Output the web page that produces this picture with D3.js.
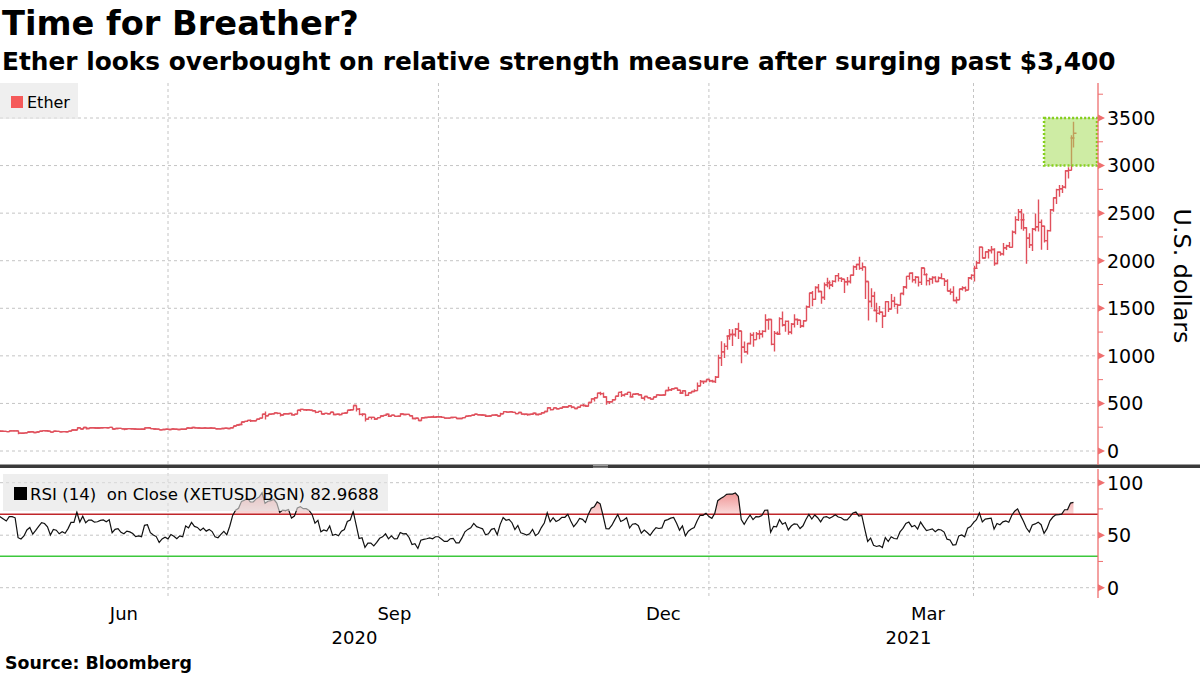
<!DOCTYPE html>
<html><head><meta charset="utf-8">
<script src="https://cdn.jsdelivr.net/npm/d3@7"></script>
<style>body{margin:0;background:#fff}svg{display:block}text{font-family:"DejaVu Sans",sans-serif;fill:#000}</style>
</head><body><svg id="c" width="1200" height="675"></svg>
<script>
// ---- DATA (daily XETUSD bars) ----
const startDate = "2020-04-19";
const closes = [
 180,171,172,182,185,189,195,197,196,197,215,206,
 213,215,210,208,206,204,212,212,211,188,186,190,199,203,194,200,207,214,213,209,198,207,206,201,204,202,209,220,220,244,231,
 247,237,244,244,241,242,245,246,244,248,231,237,238,233,231,235,234,232,228,229,228,243,244,235,232,230,222,226,228,226,
 231,229,226,229,228,241,239,247,243,242,239,242,239,241,239,234,233,236,239,236,245,262,274,279,305,311,322,318,318,334,346,
 387,371,386,390,401,395,379,391,390,395,380,388,428,437,433,433,430,423,406,416,389,395,392,408,383,386,382,395,400,428,434,
 478,440,385,388,335,353,353,337,351,368,374,387,365,377,364,365,389,384,385,371,341,344,321,349,352,354,357,354,360,360,
 353,346,346,352,353,341,341,351,365,371,375,387,381,379,377,366,368,377,379,368,392,414,409,412,406,393,404,388,386,383,386,
 396,383,388,402,415,455,435,453,444,450,462,462,475,461,447,460,480,478,471,509,548,560,608,603,568,518,517,538,575,616,
 587,598,616,569,596,601,591,554,573,560,545,568,590,586,589,636,643,654,659,638,609,634,585,612,626,635,683,731,731,751,737,
 730,775,979,1042,1100,1208,1225,1224,1281,1262,1090,1043,1130,1218,1171,1233,1230,1257,1377,1382,1121,1236,1230,1391,1325,1362,1248,1332,1382,1376,1314,
 1369,1515,1660,1594,1718,1677,1614,1746,1768,1744,1783,1843,1814,1805,1779,1781,1848,1937,1960,1919,1935,1781,1571,1626,1476,1446,1459,1417,
 1570,1492,1575,1541,1533,1655,1724,1835,1868,1799,1826,1772,1924,1854,1791,1806,1823,1782,1819,1812,1784,1681,1669,1582,1588,1702,1716,1691,1819,1846,1919,
 1977,2143,2029,2094,2107,2118,1971,2089,2072,2136,2157,2140,2300,2432,2515,2430,2346,2237,2166,2331,2357,2403,2363,2211,2316,2534,2662,2747,2757,2773,
 2945,2950,3290,3340
];
const highs = [
 187,186,174,183,190,190,196,199,199,198,220,227,
 216,217,217,210,209,209,215,216,215,212,193,193,201,206,204,201,210,215,215,214,210,209,210,211,205,206,210,222,224,246,244,
 251,252,245,246,245,244,245,247,246,250,250,239,239,238,233,240,238,235,232,230,230,245,246,248,236,233,231,228,229,229,
 232,232,230,230,229,242,242,248,248,243,242,243,243,242,243,239,235,238,240,240,248,264,277,283,307,315,327,330,326,335,346,
 391,414,390,395,406,403,398,392,395,400,397,390,431,444,441,436,440,434,424,418,417,397,395,411,409,390,394,395,405,429,441,
 479,479,451,396,389,355,357,357,353,373,375,390,389,381,378,371,397,393,392,385,372,346,344,351,356,357,359,372,361,362,
 368,354,349,354,354,354,342,352,368,375,377,390,389,382,382,377,369,378,381,380,403,416,417,416,415,407,408,406,394,387,393,
 400,397,392,406,419,456,458,454,457,452,470,467,478,475,461,464,487,494,482,511,554,563,612,622,614,575,526,544,575,616,
 630,600,619,617,597,603,605,593,576,574,563,569,593,592,592,637,676,657,666,664,640,636,637,613,628,648,719,745,733,754,754,
 749,787,1011,1154,1132,1209,1282,1280,1294,1347,1260,1150,1136,1244,1248,1251,1268,1268,1438,1392,1384,1260,1257,1407,1467,1371,1371,1346,1437,1392,1377,
 1375,1529,1663,1681,1732,1755,1682,1771,1822,1792,1795,1850,1870,1827,1806,1829,1853,1950,1967,2042,1980,1936,1781,1711,1673,1559,1525,1467,
 1574,1575,1650,1622,1545,1658,1734,1836,1873,1878,1840,1835,1932,1924,1868,1822,1836,1838,1834,1868,1811,1805,1709,1731,1620,1705,1732,1730,1828,1859,1947,
 1999,2150,2145,2098,2124,2155,2132,2096,2095,2187,2168,2196,2318,2467,2544,2543,2495,2351,2288,2344,2497,2644,2433,2367,2325,2544,2665,2757,2797,2796,
 2951,2982,3320,3460
];
const lows = [
 178,169,167,170,179,184,186,192,193,192,196,201,
 204,210,205,199,202,201,201,209,209,176,179,185,188,195,193,193,199,206,209,205,195,197,204,200,198,200,200,206,216,220,229,
 230,227,234,239,240,240,236,243,240,242,225,229,235,231,217,230,233,230,226,226,227,227,240,231,227,227,218,220,224,225,
 225,223,225,225,225,227,237,238,240,235,237,237,236,236,237,230,231,232,235,235,236,244,262,270,278,300,306,306,313,315,330,
 345,330,368,380,386,387,363,373,385,385,372,370,386,413,425,420,425,416,398,404,385,382,384,390,376,378,374,380,392,399,423,
 431,415,376,366,309,329,330,327,335,349,359,372,358,364,363,360,365,376,380,367,333,332,317,319,341,349,347,352,350,354,
 346,339,344,345,348,337,336,338,349,364,368,372,377,373,371,357,363,366,373,365,367,389,402,406,403,385,391,380,375,371,378,
 386,380,374,383,398,413,425,432,436,441,449,454,459,450,443,444,459,468,465,471,507,520,560,585,560,487,495,511,536,573,
 567,572,589,565,564,588,584,552,531,557,540,543,566,579,580,586,628,631,648,632,598,602,576,581,604,620,634,683,703,722,722,
 719,716,769,893,977,1064,1170,1104,1201,1176,922,1033,1015,1119,1095,1170,1174,1192,1249,1274,1111,1045,1220,1223,1308,1253,1223,1228,1298,1324,1292,
 1301,1368,1506,1522,1590,1667,1548,1588,1720,1700,1724,1771,1782,1777,1661,1740,1760,1843,1902,1904,1895,1598,1371,1511,1468,1352,1432,1293,
 1414,1462,1489,1512,1443,1528,1638,1706,1800,1772,1760,1728,1745,1847,1739,1742,1757,1775,1775,1806,1733,1680,1642,1574,1551,1586,1686,1675,1691,1799,1782,
 1913,1967,2023,2027,2024,2077,1946,1962,2051,2054,2113,2135,2138,2277,2418,2332,2315,1969,2133,2103,2310,2306,2115,2192,2113,2306,2515,2595,2672,2712,
 2760,2863,2950,3190
];
const priceTicks = [0,500,1000,1500,2000,2500,3000,3500];
const priceMinorTicks = [250,750,1250,1750,2250,2750,3250,3750];
const rsiTicks = [0,50,100];
const rsiMinorTicks = [25,75];
const rsiLevels = [70,30];
const rsiPeriod = 14;
const gridDates = ["2020-07-01","2020-10-01","2021-01-01","2021-04-01"];
const monthLabels = ["Jun","Sep","Dec","Mar"];
const monthLabelDates = ["2020-06-01","2020-09-01","2020-12-01","2021-03-01"];
const yearLabels = ["2020","2021"];
const highlightY = [3000,3500];
const highlightStart = "2021-04-25";
const legendPrice = "Ether";
const legendRsi = "RSI (14)  on Close (XETUSD BGN) 82.9688";

// ---- LAYOUT ----
const svg = d3.select("#c");
const P = {left:0, right:1098, pTop:83, pBot:465, rTop:469, rBot:598};
const parse = d3.utcParse("%Y-%m-%d");
const x = d3.scaleUtc().domain([parse("2020-07-01"), parse("2021-04-01")]).range([168, 973.5]);
const yP = d3.scaleLinear().domain([0,3500]).range([451,118]);
const yR = d3.scaleLinear().domain([0,100]).range([587.7,482.7]);

const t0 = parse(startDate);
const bars = closes.map((c,i)=>({
  date:d3.utcDay.offset(t0,i), o: i? closes[i-1]:c, h:highs[i], l:lows[i], c
}));
// bars are stamped at the end of their trading day
const bx = d => x(d3.utcDay.offset(d.date,1));

// RSI (Wilder, 14) on close
let ag=0, al=0; const rsi=[];
for(let i=1;i<closes.length;i++){
  const ch=closes[i]-closes[i-1], g=Math.max(ch,0), l=Math.max(-ch,0);
  if(i<=rsiPeriod){ag+=g/rsiPeriod; al+=l/rsiPeriod; if(i===rsiPeriod) rsi.push({d:bars[i],v:100-100/(1+ag/al)});}
  else {ag=(ag*(rsiPeriod-1)+g)/rsiPeriod; al=(al*(rsiPeriod-1)+l)/rsiPeriod; rsi.push({d:bars[i],v:al===0?100:100-100/(1+ag/al)});}
}

const defs = svg.append("defs");
defs.append("clipPath").attr("id","cp").append("rect").attr("x",P.left).attr("y",P.pTop).attr("width",P.right-P.left).attr("height",P.pBot-P.pTop);
defs.append("clipPath").attr("id","cr").append("rect").attr("x",P.left).attr("y",P.rTop).attr("width",P.right-P.left).attr("height",P.rBot-P.rTop);
const grad = defs.append("linearGradient").attr("id","rg").attr("gradientUnits","userSpaceOnUse")
  .attr("x1",0).attr("x2",0).attr("y1",yR(95)).attr("y2",yR(70));
grad.append("stop").attr("offset",0).attr("stop-color","#ec8585");
grad.append("stop").attr("offset",1).attr("stop-color","#fbdcdc");

const gridCol="#c4c4c4";
// horizontal grid
svg.append("g").selectAll("line").data(priceTicks).join("line")
  .attr("x1",P.left).attr("x2",P.right).attr("y1",d=>yP(d)).attr("y2",d=>yP(d))
  .attr("stroke",gridCol).attr("stroke-dasharray","3,3");
svg.append("g").selectAll("line").data(rsiTicks).join("line")
  .attr("x1",P.left).attr("x2",P.right).attr("y1",d=>yR(d)).attr("y2",d=>yR(d))
  .attr("stroke",gridCol).attr("stroke-dasharray","3,3");
// vertical grid
svg.append("g").selectAll("line").data(gridDates.map(parse)).join("line")
  .attr("x1",d=>x(d)).attr("x2",d=>x(d)).attr("y1",P.pTop).attr("y2",P.rBot)
  .attr("stroke",gridCol).attr("stroke-dasharray","3,3");

// price bars
const barCol="#e0505c";
const gb = svg.append("g").attr("clip-path","url(#cp)").attr("stroke",barCol).attr("stroke-width",1.4).attr("fill","none");
gb.selectAll("path").data(bars).join("path")
  .attr("d",d=>{const xx=Math.round(bx(d))+0.5;
    return `M${xx},${yP(d.h)}V${yP(d.l)}M${xx-3},${yP(d.o)}H${xx}M${xx},${yP(d.c)}H${xx+3}`;});

// highlight box
const hx0 = x(parse(highlightStart));
svg.append("rect").attr("x",hx0).attr("y",yP(highlightY[1])).attr("width",P.right-1-hx0)
  .attr("height",yP(highlightY[0])-yP(highlightY[1]))
  .attr("fill","#a6dc5a").attr("fill-opacity",0.55)
  .attr("stroke","#86cf1e").attr("stroke-width",2.5).attr("stroke-dasharray","2,2");

// RSI
const gr = svg.append("g").attr("clip-path","url(#cr)");
const vis = rsi.filter(r=>bx(r.d)>=-5);
gr.append("path").datum(vis)
  .attr("d",d3.area().x(r=>bx(r.d)).y0(yR(70)).y1(r=>yR(Math.max(r.v,70))))
  .attr("fill","url(#rg)");
gr.append("line").attr("x1",P.left).attr("x2",P.right).attr("y1",yR(rsiLevels[0])).attr("y2",yR(rsiLevels[0]))
  .attr("stroke","#c0262a").attr("stroke-width",1.5);
gr.append("line").attr("x1",P.left).attr("x2",P.right).attr("y1",yR(rsiLevels[1])).attr("y2",yR(rsiLevels[1]))
  .attr("stroke","#3cc83c").attr("stroke-width",1.5);
gr.append("path").datum(vis)
  .attr("d",d3.line().x(r=>bx(r.d)).y(r=>yR(r.v)))
  .attr("fill","none").attr("stroke","#111").attr("stroke-width",1.2);

// separator
svg.append("rect").attr("x",0).attr("y",464.5).attr("width",1200).attr("height",3.5).attr("fill","#3a3a3a");
svg.append("line").attr("x1",593).attr("x2",608).attr("y1",465.5).attr("y2",465.5).attr("stroke","#9a9a9a");
svg.append("line").attr("x1",593).attr("x2",608).attr("y1",467.2).attr("y2",467.2).attr("stroke","#9a9a9a");

function fit(sel,w){const L=sel.node().getComputedTextLength();sel.attr("font-size",parseFloat(sel.attr("font-size"))*w/L);return sel;}

// legends
svg.append("rect").attr("x",0).attr("y",83).attr("width",78).attr("height",36).attr("fill","#e4e4e4").attr("fill-opacity",0.6);
svg.append("rect").attr("x",11).attr("y",96).attr("width",12).attr("height",12).attr("fill","#f55a5a");
svg.append("text").attr("x",27).attr("y",108).attr("font-size",16).text(legendPrice);
svg.append("rect").attr("x",3).attr("y",474).attr("width",385).attr("height",37).attr("fill","#e2e2e2").attr("fill-opacity",0.6);
svg.append("rect").attr("x",14).attr("y",487).attr("width",13).attr("height",13).attr("fill","#000");
fit(svg.append("text").attr("x",30).attr("y",500).attr("font-size",16).attr("xml:space","preserve").style("white-space","pre").text(legendRsi),349);

// axes (right side)
const axCol="#ef6f6f";
function rightAxis(scale,ticks,minor,y0,y1){
  const g=svg.append("g");
  g.append("line").attr("x1",P.right).attr("x2",P.right).attr("y1",y0).attr("y2",y1).attr("stroke",axCol).attr("stroke-width",1.3);
  g.selectAll("path.t").data(ticks).join("path").attr("class","t")
    .attr("d",d=>`M${P.right},${scale(d)-3.5}L${P.right+7},${scale(d)}L${P.right},${scale(d)+3.5}Z`).attr("fill",axCol);
  g.selectAll("line.m").data(minor).join("line").attr("class","m")
    .attr("x1",P.right).attr("x2",P.right+5).attr("y1",d=>scale(d)).attr("y2",d=>scale(d)).attr("stroke",axCol);
  g.selectAll("text").data(ticks).join("text").attr("x",P.right+9).attr("y",d=>scale(d)).attr("dy","0.36em")
    .attr("font-size",19).text(d=>d);
}
rightAxis(yP,priceTicks,priceMinorTicks,P.pTop,P.pBot);
rightAxis(yR,rsiTicks,rsiMinorTicks,P.rTop,P.rBot);
fit(svg.append("text").attr("transform","translate(1174,276) rotate(90)").attr("text-anchor","middle")
  .attr("font-size",22).text("U.S. dollars"),135);

// x labels
monthLabelDates.forEach((s,i)=>{const a=parse(s),b=d3.utcMonth.offset(a,1);
  svg.append("text").attr("x",(x(a)+x(b))/2).attr("y",620).attr("text-anchor","middle").attr("font-size",18).text(monthLabels[i]);});
const jan = x(parse("2021-01-01"));
svg.append("text").attr("x",(P.left+jan)/2).attr("y",644).attr("text-anchor","middle").attr("font-size",18).text(yearLabels[0]);
svg.append("text").attr("x",(jan+1108)/2).attr("y",644).attr("text-anchor","middle").attr("font-size",18).text(yearLabels[1]);

// titles
fit(svg.append("text").attr("x",2).attr("y",35).attr("font-size",33).attr("font-weight","bold").text("Time for Breather?"),357);
fit(svg.append("text").attr("x",2).attr("y",70).attr("font-size",22).attr("font-weight","bold")
  .text("Ether looks overbought on relative strength measure after surging past $3,400"),1114);
fit(svg.append("text").attr("x",5).attr("y",669).attr("font-size",15).attr("font-weight","bold").text("Source: Bloomberg"),187);
</script></body></html>
